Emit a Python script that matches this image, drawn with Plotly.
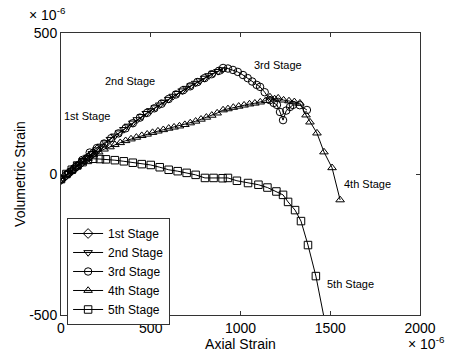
import plotly.graph_objects as go

# ---- data (units of 1e-6) ----
s1_x = [0, 15, 30, 45, 60, 75, 90, 105, 120, 135, 150, 165, 180, 200]
s1_y = [-20, -12, -4, 4, 12, 20, 28, 35, 43, 51, 58, 66, 74, 85]

s2_x = [0, 20, 40, 60, 80, 100, 125, 150, 175, 200, 225, 250, 275, 300, 325, 350, 375, 400,
        425, 450, 475, 500, 525, 550, 575, 600, 625, 650, 675, 700, 725, 750, 775, 800,
        825, 850, 875, 900]
s2_y = [-20, -9, 2, 12, 23, 34, 47, 60, 73, 86, 99, 111, 123, 135, 146, 158, 170, 181,
        193, 204, 215, 225, 235, 245, 255, 265, 276, 286, 295, 304, 313, 322, 331, 340,
        349, 357, 364, 370]

s3_x = [0, 40, 80, 120, 160, 200, 240, 280, 320, 360, 400, 440, 480, 520, 560, 600, 640,
        680, 720, 760, 800, 840, 880, 903, 930, 958, 985, 1014, 1040, 1065, 1090, 1109,
        1135, 1164, 1185, 1203, 1220, 1237, 1255, 1276, 1292, 1330, 1370]
s3_y = [-20, 2, 23, 50, 76, 92, 108, 127, 144, 162, 180, 200, 217, 233, 249, 266, 282,
        297, 311, 326, 340, 354, 366, 376, 374, 369, 362, 351, 340, 328, 316, 309,
        290, 262, 252, 245, 220, 191, 225, 238, 245, 244, 227]

s4_x = [0, 30, 60, 90, 120, 150, 180, 210, 240, 273, 300, 330, 360, 390, 420, 450, 480,
        510, 540, 570, 600, 630, 660, 690, 720, 750, 780, 810, 840, 870, 903, 930, 960,
        990, 1020, 1050, 1080, 1110, 1140, 1164, 1190, 1210, 1240, 1270, 1300, 1331,
        1365, 1387, 1426, 1465, 1510, 1555]
s4_y = [-18, -3, 12, 27, 42, 55, 68, 78, 88, 96, 104, 111, 118, 124, 130, 136, 141,
        147, 152, 157, 162, 166, 170, 175, 181, 187, 194, 201, 208, 216, 227, 231, 236,
        240, 244, 248, 251, 255, 260, 273, 266, 269, 262, 259, 256, 251,
        209, 184, 145, 78, 22, -92]

s5_x = [0, 30, 60, 90, 120, 150, 180, 217, 250, 300, 350, 400, 450, 500, 550, 600, 650,
        700, 750, 802, 850, 900, 930, 980, 1042, 1100, 1150, 1200, 1237, 1265, 1304,
        1337, 1376, 1420, 1475]
s5_y = [-18, 0, 15, 30, 42, 50, 54, 53, 52, 49, 45, 40, 35, 32, 24, 15, 10, 4, -3, -14,
        -14, -15, -14, -24, -32, -38, -48, -62, -74, -99, -128, -167, -252, -362, -540]

names = ["1st Stage", "2nd Stage", "3rd Stage", "4th Stage", "5th Stage"]
symbols = ["diamond-open", "triangle-down-open", "circle-open", "triangle-up-open", "square-open"]
xs = [s1_x, s2_x, s3_x, s4_x, s5_x]
ys = [s1_y, s2_y, s3_y, s4_y, s5_y]

x_ticks = [0, 500, 1000, 1500, 2000]
y_ticks = [-500, 0, 500]

# stage label positions (data units)
lab_x = [145, 386, 1209, 1710, 1610]
lab_y = [206, 330, 387, -35, -390]

FONT = "Liberation Sans"

fig = go.Figure()
for n, s, x, y in zip(names, symbols, xs, ys):
    fig.add_trace(go.Scatter(
        x=x, y=y, name=n, mode="lines+markers",
        line=dict(color="black", width=1),
        marker=dict(symbol=s, size=7.5, color="black", line=dict(color="black", width=1)),
    ))

for n, lx, ly in zip(names, lab_x, lab_y):
    fig.add_annotation(x=lx, y=ly, text=n, showarrow=False,
                       font=dict(size=11, color="black", family=FONT))

fig.add_annotation(xref="paper", yref="paper", x=-0.095, y=1.068, xanchor="left", yanchor="middle",
                   text="× 10<sup>-6</sup>", showarrow=False,
                   font=dict(size=14, color="black", family=FONT))
fig.add_annotation(xref="paper", yref="paper", x=0.962, y=-0.1, xanchor="left", yanchor="middle",
                   text="× 10<sup>-6</sup>", showarrow=False,
                   font=dict(size=14, color="black", family=FONT))

axis_common = dict(showline=True, linecolor="#333", linewidth=1, mirror="ticks",
                   ticks="inside", ticklen=4, tickcolor="#333", showgrid=False,
                   zeroline=False, automargin=False,
                   tickfont=dict(size=14, color="black", family=FONT))

fig.update_layout(
    width=455, height=358,
    margin=dict(l=61, r=35, t=33, b=43, autoexpand=False),
    plot_bgcolor="white", paper_bgcolor="white",
    font=dict(family=FONT, color="black", size=14),
    xaxis=dict(range=[0, 2000], tickvals=x_ticks, ticktext=[str(v) for v in x_ticks],
               title=dict(text="Axial Strain", standoff=2,
                          font=dict(size=14, family=FONT, color="black")), **axis_common),
    yaxis=dict(range=[-500, 500], tickvals=y_ticks, ticktext=[str(v) for v in y_ticks],
               title=dict(text="Volumetric Strain", standoff=0,
                          font=dict(size=14, family=FONT, color="black")), **axis_common),
    legend=dict(x=0.017, y=0.344, xanchor="left", yanchor="top",
                bordercolor="#333", borderwidth=1, bgcolor="white",
                font=dict(size=12, color="black", family=FONT), tracegroupgap=0,
                itemwidth=30),
    showlegend=True,
)

fig.write_html("out.html", config={"displayModeBar": False},
               post_script="document.body.style.margin='0';document.body.style.padding='0';")
